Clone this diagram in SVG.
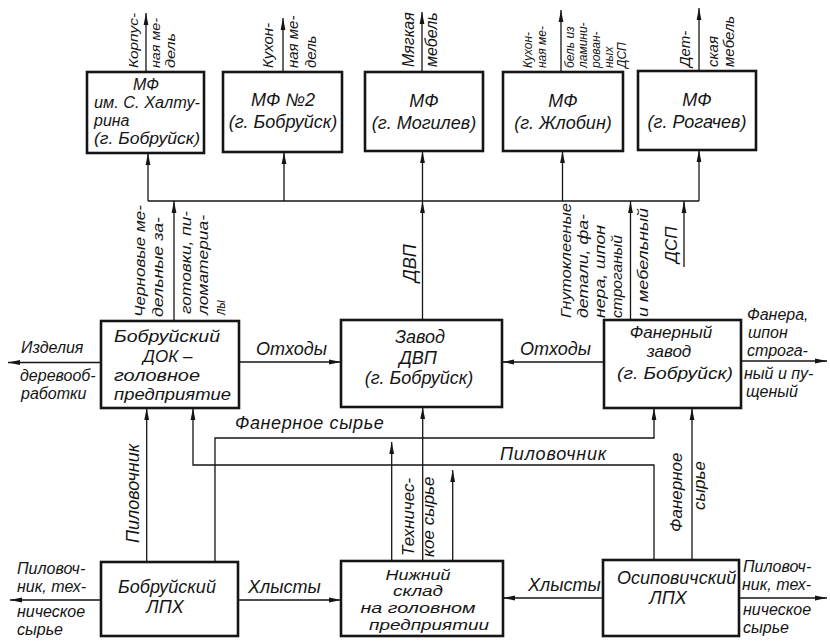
<svg xmlns="http://www.w3.org/2000/svg" width="830" height="641" viewBox="0 0 830 641">
<defs>
<style>
.box{fill:none;stroke:#151515;stroke-width:2.6}
.c{fill:none;stroke:#151515;stroke-width:1.3}
.a{marker-end:url(#ah)}
text{font-family:"Liberation Sans",Arial,sans-serif;font-style:italic;fill:#151515}
.m{text-anchor:middle}
.s12{font-size:12px}.s13{font-size:13px}.s14{font-size:14px}.s15{font-size:15px}.s16{font-size:16px}.s17{font-size:17px}.s18{font-size:18px}
</style>
<marker id="ah" viewBox="0 0 12 6" refX="12" refY="3" markerWidth="12" markerHeight="6" markerUnits="userSpaceOnUse" orient="auto"><path d="M0,0.6 L12,3 L0,5.4 z" fill="#151515"/></marker>
</defs>
<rect width="830" height="641" fill="#fff"/>

<g id="connectors">
<path class="c a" d="M146,72 V13"/>
<path class="c a" d="M283,72 V18"/>
<path class="c a" d="M422,72 V12"/>
<path class="c a" d="M561,72 V10"/>
<path class="c a" d="M699,71 V8"/>
<path class="c" d="M148,201 H699"/>
<path class="c a" d="M148,201 V153"/>
<path class="c a" d="M284,201 V152"/>
<path class="c a" d="M422.5,201 V151"/>
<path class="c a" d="M562.5,201 V151"/>
<path class="c a" d="M699,201 V150"/>
<path class="c a" d="M174,321 V201"/>
<path class="c a" d="M422.5,320 V201"/>
<path class="c a" d="M630.5,320 V201"/>
<path class="c a" d="M684,267 V201"/>
<path class="c a" d="M101,362.5 H8"/>
<path class="c a" d="M239,362 H341"/>
<path class="c a" d="M604,362 H502"/>
<path class="c a" d="M741,361 H827"/>
<path class="c a" d="M146.7,562 V408"/>
<path class="c a" d="M215,562 V438 H654 V408"/>
<path class="c a" d="M654,560 V465 H193 V408"/>
<path class="c a" d="M391.7,561 V442"/>
<path class="c a" d="M422.7,561 V407"/>
<path class="c a" d="M452.7,561 V470"/>
<path class="c a" d="M692,560 V408"/>
<path class="c a" d="M101,600 H10"/>
<path class="c a" d="M238,600 H341"/>
<path class="c a" d="M603,598 H503"/>
<path class="c a" d="M739,598 H827"/>
</g>

<g id="labels">
<g class="s13">
<text transform="translate(138,68) rotate(-90)" textLength="55" lengthAdjust="spacingAndGlyphs">Корпус-</text>
<text transform="translate(160,68) rotate(-90)" textLength="50" lengthAdjust="spacingAndGlyphs">ная ме-</text>
<text transform="translate(175,68) rotate(-90)" textLength="35" lengthAdjust="spacingAndGlyphs">дель</text>
</g>
<g class="s15">
<text transform="translate(273,68) rotate(-90)">Кухон-</text>
<text transform="translate(298,68) rotate(-90)">ная ме-</text>
<text transform="translate(316,68) rotate(-90)">дель</text>
<text transform="translate(690,67) rotate(-90)">Дет-</text>
<text transform="translate(718,67) rotate(-90)">ская</text>
<text transform="translate(734,67) rotate(-90)">мебель</text>
</g>
<g class="s16">
<text transform="translate(414,67) rotate(-90)">Мягкая</text>
<text transform="translate(437,67) rotate(-90)">мебель</text>
</g>
<g class="s12">
<text transform="translate(532,68) rotate(-90)">Кухон-</text>
<text transform="translate(546,68) rotate(-90)">ная ме-</text>
<text transform="translate(574,68) rotate(-90)">бель из</text>
<text transform="translate(587,68) rotate(-90)">ламини-</text>
<text transform="translate(600,68) rotate(-90)">рован-</text>
<text transform="translate(613,68) rotate(-90)">ных</text>
<text transform="translate(626,68) rotate(-90)">ДСП</text>
</g>
<g class="s15">
<text transform="translate(145,317) rotate(-90)" textLength="112" lengthAdjust="spacingAndGlyphs">Черновые ме-</text>
<text transform="translate(163,317) rotate(-90)" textLength="100" lengthAdjust="spacingAndGlyphs">дельные за-</text>
<text transform="translate(191,314) rotate(-90)" textLength="103" lengthAdjust="spacingAndGlyphs">готовки, пи-</text>
<text transform="translate(208,315) rotate(-90)" textLength="100" lengthAdjust="spacingAndGlyphs">ломатериа-</text>
<text transform="translate(225,315) rotate(-90)" textLength="15" lengthAdjust="spacingAndGlyphs">лы</text>
<text transform="translate(571,318) rotate(-90)" textLength="115" lengthAdjust="spacingAndGlyphs">Гнутоклееные</text>
<text transform="translate(588,318) rotate(-90)" textLength="104" lengthAdjust="spacingAndGlyphs">детали, фа-</text>
<text transform="translate(605,318) rotate(-90)" textLength="93" lengthAdjust="spacingAndGlyphs">нера, шпон</text>
<text transform="translate(622,318) rotate(-90)" textLength="83" lengthAdjust="spacingAndGlyphs">строганый</text>
<text transform="translate(648,317) rotate(-90)" textLength="109" lengthAdjust="spacingAndGlyphs">и мебельный</text>
</g>
<g class="s17">
<text transform="translate(677,263) rotate(-90)">ДСП</text>
<text transform="translate(414,556) rotate(-90)">Техничес-</text>
<text transform="translate(434,557) rotate(-90)">кое сырье</text>
<text transform="translate(682,532) rotate(-90)">Фанерное</text>
<text transform="translate(705,510) rotate(-90)">сырье</text>
</g>
<g class="s18">
<text transform="translate(416,282) rotate(-90)">ДВП</text>
<text transform="translate(139,543) rotate(-90)">Пиловочник</text>
</g>
<g class="s16">
<text x="21" y="353">Изделия</text>
<text x="20" y="381">деревооб-</text>
<text x="21" y="399">работки</text>
<text x="747" y="320">Фанера,</text>
<text x="748" y="338">шпон</text>
<text x="747" y="356">строга-</text>
<text x="744" y="379">ный и пу-</text>
<text x="746" y="397">щеный</text>
<text x="17" y="574">Пиловоч-</text>
<text x="17" y="592">ник, тех-</text>
<text x="17" y="617">ническое</text>
<text x="17" y="635">сырье</text>
<text x="743" y="572">Пиловоч-</text>
<text x="742" y="590">ник, тех-</text>
<text x="743" y="615">ническое</text>
<text x="743" y="633">сырье</text>
</g>
<g class="s18">
<text x="256" y="355">Отходы</text>
<text x="520" y="355">Отходы</text>
<text x="235" y="429" letter-spacing="0.6">Фанерное сырье</text>
<text x="500" y="460" letter-spacing="0.8">Пиловочник</text>
<text x="248" y="593">Хлысты</text>
<text x="528" y="591">Хлысты</text>
</g>
</g>

<g id="mf-khalturina">
<rect class="box" x="87" y="72" width="117" height="81"/>
<text class="s16 m" x="146" y="90">МФ</text>
<text class="s16 m" x="147" y="108" textLength="106" lengthAdjust="spacingAndGlyphs">им. С. Халту-</text>
<text class="s16" x="94" y="126">рина</text>
<text class="s16 m" x="147" y="144" textLength="106" lengthAdjust="spacingAndGlyphs">(г. Бобруйск)</text>
</g>
<g id="mf-2">
<rect class="box" x="223" y="72" width="119" height="80"/>
<text class="s18 m" x="283" y="106">МФ №2</text>
<text class="s18 m" x="283" y="128">(г. Бобруйск)</text>
</g>
<g id="mf-mogilev">
<rect class="box" x="365" y="72" width="118" height="79"/>
<text class="s18 m" x="424" y="107">МФ</text>
<text class="s18 m" x="424" y="129">(г. Могилев)</text>
</g>
<g id="mf-zhlobin">
<rect class="box" x="503" y="72" width="120" height="79"/>
<text class="s18 m" x="563" y="107">МФ</text>
<text class="s18 m" x="563" y="129">(г. Жлобин)</text>
</g>
<g id="mf-rogachev">
<rect class="box" x="638" y="71" width="118" height="79"/>
<text class="s18 m" x="697" y="106">МФ</text>
<text class="s18 m" x="697" y="128">(г. Рогачев)</text>
</g>

<g id="dok">
<rect class="box" x="101" y="321" width="138" height="87"/>
<text class="s17" x="114" y="342" textLength="106" lengthAdjust="spacingAndGlyphs">Бобруйский</text>
<text class="s17" x="143" y="362">ДОК –</text>
<text class="s17" x="114" y="381" textLength="86" lengthAdjust="spacingAndGlyphs">головное</text>
<text class="s17" x="114" y="400" textLength="117" lengthAdjust="spacingAndGlyphs">предприятие</text>
</g>
<g id="dvp">
<rect class="box" x="341" y="320" width="161" height="87"/>
<text class="s18 m" x="420" y="343">Завод</text>
<text class="s18 m" x="418" y="364">ДВП</text>
<text class="s18 m" x="419" y="384">(г. Бобруйск)</text>
</g>
<g id="fanernyi">
<rect class="box" x="604" y="320" width="137" height="88"/>
<text class="s17 m" x="671" y="338">Фанерный</text>
<text class="s17 m" x="669" y="357">завод</text>
<text class="s17 m" x="675" y="379" textLength="116" lengthAdjust="spacingAndGlyphs">(г. Бобруйск)</text>
</g>

<g id="lph-bobruisk">
<rect class="box" x="101" y="562" width="137" height="74"/>
<text class="s18 m" x="167" y="593">Бобруйский</text>
<text class="s18 m" x="165" y="613">ЛПХ</text>
</g>
<g id="nizhnii-sklad">
<rect class="box" x="341" y="561" width="162" height="75"/>
<text class="s14 m" x="418" y="580" textLength="65" lengthAdjust="spacingAndGlyphs">Нижний</text>
<text class="s14 m" x="418" y="596" textLength="50" lengthAdjust="spacingAndGlyphs">склад</text>
<text class="s14 m" x="418" y="613" textLength="115" lengthAdjust="spacingAndGlyphs">на головном</text>
<text class="s14 m" x="429" y="630" textLength="120" lengthAdjust="spacingAndGlyphs">предприятии</text>
</g>
<g id="lph-osipovichi">
<rect class="box" x="603" y="560" width="136" height="76"/>
<text class="s18" x="617" y="584">Осиповичский</text>
<text class="s18 m" x="668" y="604">ЛПХ</text>
</g>
</svg>
